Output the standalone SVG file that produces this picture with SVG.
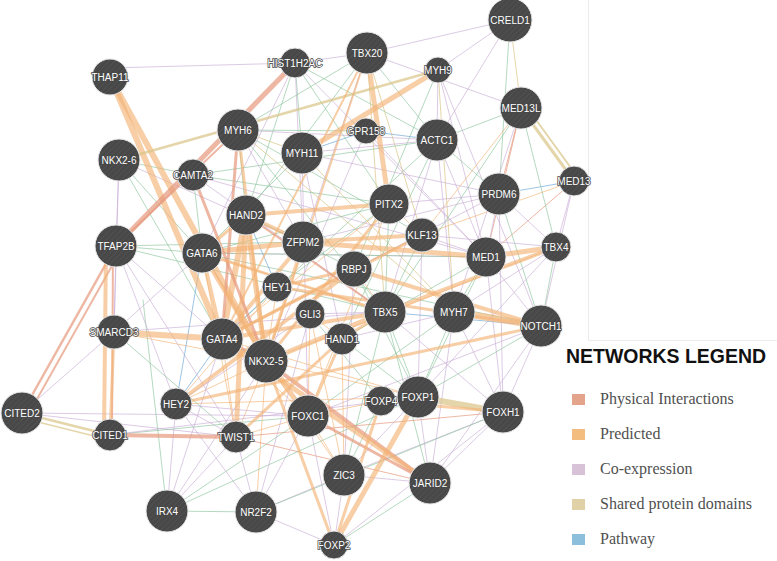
<svg xmlns="http://www.w3.org/2000/svg" width="777" height="561" viewBox="0 0 777 561">
<defs>
<pattern id="hatch" patternUnits="userSpaceOnUse" width="4" height="4" patternTransform="rotate(45)">
<rect width="4" height="4" fill="#484848"/>
<line x1="0" y1="0" x2="0" y2="4" stroke="#555" stroke-width="1.2"/>
</pattern>
</defs>
<style>
line{stroke-linecap:round;fill:none}
.pr{stroke:#f3b476;stroke-opacity:.65}
.pi{stroke:#e5987c;stroke-opacity:.7}
.co{stroke:#c9aed6;stroke-opacity:.65}
.sd{stroke:#d8c486;stroke-opacity:.7}
.pw{stroke:#7cb0da;stroke-opacity:.75}
.gi{stroke:#8cc49c;stroke-opacity:.65}
.t{stroke-width:1}
.node circle{fill:url(#hatch);stroke:#e8e8e8;stroke-width:1}
.node text{fill:#fff;font-family:"Liberation Sans",Arial,sans-serif;font-size:10px;text-anchor:middle;stroke:#474747;stroke-width:1.5;paint-order:stroke}
.lg{font-family:"Liberation Serif","Times New Roman",serif;font-size:16px;fill:#505050}
</style>
<rect width="777" height="561" fill="#fff"/>
<g id="frame" stroke="#ececec" stroke-width="1" fill="none">
<line x1="588.5" y1="0" x2="588.5" y2="340"/>
<line x1="588.5" y1="340.5" x2="777" y2="340.5"/>
</g>
<g id="connectors">
<line class="co t" x1="110" y1="68" x2="295" y2="63"/>
<line class="co t" x1="295" y1="63" x2="367" y2="53"/>
<line class="co t" x1="367" y1="53" x2="510" y2="20"/>
<line class="co t" x1="438" y1="70" x2="510" y2="20"/>
<line class="gi t" x1="510" y1="20" x2="499" y2="194"/>
<line class="sd t" x1="510" y1="20" x2="521" y2="108"/>
<line class="co t" x1="510" y1="20" x2="437" y2="140"/>
<line class="gi t" x1="295" y1="63" x2="302" y2="153"/>
<line class="gi t" x1="295" y1="63" x2="437" y2="140"/>
<line class="co t" x1="295" y1="63" x2="202" y2="253"/>
<line class="gi t" x1="295" y1="63" x2="389" y2="204"/>
<line class="gi t" x1="295" y1="63" x2="246" y2="215"/>
<line class="co t" x1="295" y1="63" x2="303" y2="242"/>
<line class="co t" x1="295" y1="63" x2="486" y2="257"/>
<line class="gi t" x1="367" y1="53" x2="246" y2="215"/>
<line class="co t" x1="367" y1="53" x2="303" y2="242"/>
<line class="gi t" x1="367" y1="53" x2="437" y2="140"/>
<line class="gi t" x1="367" y1="53" x2="238" y2="130"/>
<line class="sd t" x1="367" y1="53" x2="422" y2="235"/>
<line class="co t" x1="367" y1="53" x2="521" y2="108"/>
<line class="sd t" x1="367" y1="53" x2="385" y2="312"/>
<line class="co t" x1="438" y1="70" x2="437" y2="140"/>
<line class="sd t" x1="438" y1="70" x2="454" y2="312"/>
<line class="co t" x1="438" y1="70" x2="486" y2="257"/>
<line class="co t" x1="438" y1="70" x2="541" y2="326"/>
<line class="gi t" x1="438" y1="70" x2="354" y2="269"/>
<line class="sd t" x1="238" y1="130" x2="454" y2="312"/>
<line class="co t" x1="238" y1="130" x2="437" y2="140"/>
<line class="sd t" x1="238" y1="130" x2="302" y2="153"/>
<line class="gi t" x1="238" y1="130" x2="366" y2="131"/>
<line class="gi t" x1="238" y1="130" x2="246" y2="215"/>
<line class="co t" x1="238" y1="130" x2="303" y2="242"/>
<line class="gi t" x1="238" y1="130" x2="422" y2="235"/>
<line class="gi t" x1="238" y1="130" x2="385" y2="312"/>
<line class="pw t" x1="366" y1="131" x2="437" y2="140"/>
<line class="pw t" x1="366" y1="131" x2="302" y2="153"/>
<line class="co t" x1="366" y1="131" x2="486" y2="257"/>
<line class="co t" x1="366" y1="131" x2="266" y2="361"/>
<line class="co t" x1="437" y1="140" x2="454" y2="312"/>
<line class="co t" x1="437" y1="140" x2="302" y2="153"/>
<line class="gi t" x1="437" y1="140" x2="222" y2="339"/>
<line class="gi t" x1="437" y1="140" x2="499" y2="194"/>
<line class="co t" x1="437" y1="140" x2="385" y2="312"/>
<line class="co t" x1="437" y1="140" x2="486" y2="257"/>
<line class="gi t" x1="437" y1="140" x2="342" y2="339"/>
<line class="sd t" x1="302" y1="153" x2="454" y2="312"/>
<line class="co t" x1="302" y1="153" x2="499" y2="194"/>
<line class="gi t" x1="302" y1="153" x2="202" y2="253"/>
<line class="co t" x1="302" y1="153" x2="342" y2="339"/>
<line class="co t" x1="302" y1="153" x2="308" y2="416"/>
<line class="gi t" x1="119" y1="160" x2="193" y2="175"/>
<line class="gi t" x1="119" y1="160" x2="202" y2="253"/>
<line class="gi t" x1="119" y1="160" x2="222" y2="339"/>
<line class="co t" x1="119" y1="160" x2="114" y2="332"/>
<line class="co t" x1="119" y1="160" x2="303" y2="242"/>
<line class="co t" x1="119" y1="160" x2="116" y2="246"/>
<line class="gi t" x1="193" y1="175" x2="202" y2="253"/>
<line class="gi t" x1="193" y1="175" x2="437" y2="140"/>
<line class="co t" x1="193" y1="175" x2="385" y2="312"/>
<line class="co t" x1="193" y1="175" x2="486" y2="257"/>
<line class="gi t" x1="193" y1="175" x2="389" y2="204"/>
<line class="pw t" x1="574" y1="181" x2="499" y2="194"/>
<line class="pi t" x1="574" y1="181" x2="486" y2="257"/>
<line class="co t" x1="574" y1="181" x2="556" y2="247"/>
<line class="pr t" x1="574" y1="181" x2="422" y2="235"/>
<line class="co t" x1="574" y1="181" x2="541" y2="326"/>
<line class="pi t" x1="521" y1="108" x2="486" y2="257"/>
<line class="pi t" x1="521" y1="108" x2="499" y2="194"/>
<line class="pr t" x1="521" y1="108" x2="422" y2="235"/>
<line class="gi t" x1="521" y1="108" x2="556" y2="247"/>
<line class="gi t" x1="521" y1="108" x2="385" y2="312"/>
<line class="gi t" x1="521" y1="108" x2="437" y2="140"/>
<line class="co t" x1="521" y1="108" x2="454" y2="312"/>
<line class="co t" x1="499" y1="194" x2="556" y2="247"/>
<line class="co t" x1="499" y1="194" x2="486" y2="257"/>
<line class="co t" x1="499" y1="194" x2="389" y2="204"/>
<line class="co t" x1="499" y1="194" x2="354" y2="269"/>
<line class="gi t" x1="499" y1="194" x2="541" y2="326"/>
<line class="co t" x1="499" y1="194" x2="303" y2="242"/>
<line class="co t" x1="499" y1="194" x2="503" y2="412"/>
<line class="pr t" x1="389" y1="204" x2="422" y2="235"/>
<line class="pr t" x1="389" y1="204" x2="222" y2="339"/>
<line class="gi t" x1="389" y1="204" x2="385" y2="312"/>
<line class="pr t" x1="389" y1="204" x2="308" y2="416"/>
<line class="gi t" x1="389" y1="204" x2="277" y2="287"/>
<line class="gi t" x1="389" y1="204" x2="202" y2="253"/>
<line class="co t" x1="422" y1="235" x2="556" y2="247"/>
<line class="co t" x1="422" y1="235" x2="486" y2="257"/>
<line class="gi t" x1="422" y1="235" x2="385" y2="312"/>
<line class="co t" x1="422" y1="235" x2="418" y2="397"/>
<line class="pr t" x1="422" y1="235" x2="354" y2="269"/>
<line class="gi t" x1="556" y1="247" x2="541" y2="326"/>
<line class="co t" x1="556" y1="247" x2="454" y2="312"/>
<line class="pr t" x1="556" y1="247" x2="266" y2="361"/>
<line class="co t" x1="556" y1="247" x2="418" y2="397"/>
<line class="co t" x1="486" y1="257" x2="541" y2="326"/>
<line class="co t" x1="486" y1="257" x2="503" y2="412"/>
<line class="gi t" x1="486" y1="257" x2="454" y2="312"/>
<line class="gi t" x1="486" y1="257" x2="418" y2="397"/>
<line class="gi t" x1="486" y1="257" x2="342" y2="339"/>
<line class="co t" x1="486" y1="257" x2="202" y2="253"/>
<line class="pr t" x1="354" y1="269" x2="385" y2="312"/>
<line class="gi t" x1="354" y1="269" x2="418" y2="397"/>
<line class="co t" x1="354" y1="269" x2="344" y2="475"/>
<line class="gi t" x1="354" y1="269" x2="246" y2="215"/>
<line class="gi t" x1="385" y1="312" x2="418" y2="397"/>
<line class="co t" x1="385" y1="312" x2="503" y2="412"/>
<line class="gi t" x1="385" y1="312" x2="344" y2="475"/>
<line class="gi t" x1="385" y1="312" x2="430" y2="483"/>
<line class="co t" x1="385" y1="312" x2="310" y2="314"/>
<line class="pr t" x1="385" y1="312" x2="202" y2="253"/>
<line class="gi t" x1="454" y1="312" x2="418" y2="397"/>
<line class="co t" x1="454" y1="312" x2="430" y2="483"/>
<line class="co t" x1="454" y1="312" x2="503" y2="412"/>
<line class="co t" x1="454" y1="312" x2="342" y2="339"/>
<line class="gi t" x1="454" y1="312" x2="308" y2="416"/>
<line class="gi t" x1="541" y1="326" x2="418" y2="397"/>
<line class="co t" x1="541" y1="326" x2="503" y2="412"/>
<line class="co t" x1="541" y1="326" x2="308" y2="416"/>
<line class="co t" x1="541" y1="326" x2="430" y2="483"/>
<line class="pw t" x1="541" y1="326" x2="385" y2="312"/>
<line class="gi t" x1="342" y1="339" x2="418" y2="397"/>
<line class="pr t" x1="342" y1="339" x2="344" y2="475"/>
<line class="pr t" x1="342" y1="339" x2="310" y2="314"/>
<line class="pr t" x1="310" y1="314" x2="344" y2="475"/>
<line class="pr t" x1="310" y1="314" x2="308" y2="416"/>
<line class="co t" x1="310" y1="314" x2="176" y2="404"/>
<line class="gi t" x1="310" y1="314" x2="381" y2="401"/>
<line class="pr t" x1="277" y1="287" x2="176" y2="404"/>
<line class="pw t" x1="277" y1="287" x2="222" y2="339"/>
<line class="pr t" x1="277" y1="287" x2="266" y2="361"/>
<line class="pw t" x1="222" y1="339" x2="176" y2="404"/>
<line class="pr t" x1="222" y1="339" x2="236" y2="437"/>
<line class="pr t" x1="222" y1="339" x2="308" y2="416"/>
<line class="pr t" x1="222" y1="339" x2="418" y2="397"/>
<line class="pr t" x1="266" y1="361" x2="344" y2="475"/>
<line class="pr t" x1="266" y1="361" x2="418" y2="397"/>
<line class="pr t" x1="266" y1="361" x2="236" y2="437"/>
<line class="pr t" x1="266" y1="361" x2="176" y2="404"/>
<line class="co t" x1="266" y1="361" x2="167" y2="511"/>
<line class="pr t" x1="266" y1="361" x2="256" y2="512"/>
<line class="co t" x1="176" y1="404" x2="236" y2="437"/>
<line class="co t" x1="176" y1="404" x2="167" y2="511"/>
<line class="co t" x1="176" y1="404" x2="256" y2="512"/>
<line class="co t" x1="176" y1="404" x2="308" y2="416"/>
<line class="pr t" x1="176" y1="404" x2="418" y2="397"/>
<line class="co t" x1="22" y1="413" x2="236" y2="437"/>
<line class="co t" x1="22" y1="413" x2="308" y2="416"/>
<line class="gi t" x1="110" y1="435" x2="308" y2="416"/>
<line class="co t" x1="110" y1="435" x2="418" y2="397"/>
<line class="pr t" x1="236" y1="437" x2="308" y2="416"/>
<line class="co t" x1="236" y1="437" x2="167" y2="511"/>
<line class="co t" x1="236" y1="437" x2="256" y2="512"/>
<line class="pi t" x1="236" y1="437" x2="430" y2="483"/>
<line class="pi t" x1="236" y1="437" x2="503" y2="412"/>
<line class="pr t" x1="308" y1="416" x2="344" y2="475"/>
<line class="co t" x1="308" y1="416" x2="334" y2="545"/>
<line class="co t" x1="308" y1="416" x2="256" y2="512"/>
<line class="pr t" x1="308" y1="416" x2="381" y2="401"/>
<line class="sd t" x1="381" y1="401" x2="418" y2="397"/>
<line class="gi t" x1="381" y1="401" x2="344" y2="475"/>
<line class="co t" x1="418" y1="397" x2="430" y2="483"/>
<line class="co t" x1="418" y1="397" x2="344" y2="475"/>
<line class="co t" x1="503" y1="412" x2="430" y2="483"/>
<line class="co t" x1="503" y1="412" x2="334" y2="545"/>
<line class="co t" x1="503" y1="412" x2="344" y2="475"/>
<line class="co t" x1="344" y1="475" x2="334" y2="545"/>
<line class="co t" x1="344" y1="475" x2="256" y2="512"/>
<line class="co t" x1="344" y1="475" x2="430" y2="483"/>
<line class="gi t" x1="430" y1="483" x2="334" y2="545"/>
<line class="gi t" x1="167" y1="511" x2="256" y2="512"/>
<line class="gi t" x1="167" y1="511" x2="308" y2="416"/>
<line class="co t" x1="167" y1="511" x2="222" y2="339"/>
<line class="gi t" x1="167" y1="511" x2="143" y2="300"/>
<line class="gi t" x1="167" y1="511" x2="418" y2="397"/>
<line class="co t" x1="256" y1="512" x2="334" y2="545"/>
<line class="gi t" x1="256" y1="512" x2="503" y2="412"/>
<line class="co t" x1="256" y1="512" x2="310" y2="314"/>
<line class="gi t" x1="116" y1="246" x2="202" y2="253"/>
<line class="co t" x1="116" y1="246" x2="222" y2="339"/>
<line class="gi t" x1="116" y1="246" x2="385" y2="312"/>
<line class="co t" x1="116" y1="246" x2="176" y2="404"/>
<line class="co t" x1="116" y1="246" x2="236" y2="437"/>
<line class="co t" x1="116" y1="246" x2="114" y2="332"/>
<line class="gi t" x1="116" y1="246" x2="303" y2="242"/>
<line class="co t" x1="114" y1="332" x2="202" y2="253"/>
<line class="co t" x1="114" y1="332" x2="385" y2="312"/>
<line class="co t" x1="114" y1="332" x2="22" y2="413"/>
<line class="gi t" x1="114" y1="332" x2="236" y2="437"/>
<line class="pr t" x1="114" y1="332" x2="266" y2="361"/>
<line class="pw t" x1="202" y1="253" x2="176" y2="404"/>
<line class="pr t" x1="202" y1="253" x2="236" y2="437"/>
<line class="pr t" x1="202" y1="253" x2="308" y2="416"/>
<line class="gi t" x1="202" y1="253" x2="486" y2="257"/>
<line class="gi t" x1="202" y1="253" x2="541" y2="326"/>
<line class="pw t" x1="246" y1="215" x2="277" y2="287"/>
<line class="pw t" x1="222" y1="339" x2="266" y2="361"/>
<line class="pr" stroke-width="6" x1="110" y1="77" x2="222" y2="339"/>
<line class="pr" stroke-width="6" x1="110" y1="77" x2="266" y2="361"/>
<line class="pi" stroke-width="5" x1="295" y1="63" x2="116" y2="246"/>
<line class="pi" stroke-width="2.5" x1="116" y1="246" x2="22" y2="413"/>
<line class="pi" stroke-width="2" x1="122" y1="248" x2="28" y2="415"/>
<line class="pr" stroke-width="4" x1="106" y1="246" x2="104" y2="435"/>
<line class="pi" stroke-width="2" x1="113" y1="246" x2="112" y2="435"/>
<line class="pi" stroke-width="4" x1="110" y1="435" x2="236" y2="437"/>
<line class="pr" stroke-width="6" x1="114" y1="332" x2="222" y2="339"/>
<line class="pr" stroke-width="5" x1="438" y1="70" x2="302" y2="153"/>
<line class="pr" stroke-width="5" x1="367" y1="53" x2="389" y2="204"/>
<line class="sd" stroke-width="2.5" x1="119" y1="160" x2="438" y2="70"/>
<line class="sd" stroke-width="3" x1="521" y1="108" x2="574" y2="181"/>
<line class="sd" stroke-width="2" x1="526" y1="106" x2="579" y2="179"/>
<line class="pr" stroke-width="7" x1="454" y1="312" x2="541" y2="326"/>
<line class="pr" stroke-width="5" x1="486" y1="257" x2="556" y2="247"/>
<line class="pr" stroke-width="4" x1="385" y1="312" x2="556" y2="247"/>
<line class="sd" stroke-width="6" x1="418" y1="397" x2="503" y2="412"/>
<line class="pr" stroke-width="3" x1="381" y1="401" x2="503" y2="412"/>
<line class="pr" stroke-width="5" x1="303" y1="242" x2="486" y2="257"/>
<line class="pr" stroke-width="4" x1="303" y1="242" x2="422" y2="235"/>
<line class="pr" stroke-width="4" x1="246" y1="215" x2="303" y2="242"/>
<line class="pr" stroke-width="5" x1="202" y1="253" x2="303" y2="242"/>
<line class="pr" stroke-width="4" x1="222" y1="339" x2="303" y2="242"/>
<line class="pi" stroke-width="4" x1="222" y1="339" x2="266" y2="361"/>
<line class="pr" stroke-width="5" x1="266" y1="361" x2="385" y2="312"/>
<line class="pr" stroke-width="4" x1="222" y1="339" x2="385" y2="312"/>
<line class="pr" stroke-width="6" x1="246" y1="215" x2="222" y2="339"/>
<line class="pr" stroke-width="5" x1="246" y1="215" x2="266" y2="361"/>
<line class="pr" stroke-width="5" x1="246" y1="215" x2="236" y2="437"/>
<line class="pi" stroke-width="3" x1="193" y1="175" x2="266" y2="361"/>
<line class="pi" stroke-width="3" x1="238" y1="130" x2="222" y2="339"/>
<line class="pi" stroke-width="4" x1="266" y1="361" x2="430" y2="483"/>
<line class="pr" stroke-width="5" x1="222" y1="339" x2="430" y2="483"/>
<line class="pi" stroke-width="3" x1="308" y1="416" x2="430" y2="483"/>
<line class="pr" stroke-width="5" x1="334" y1="545" x2="418" y2="397"/>
<line class="pr" stroke-width="3" x1="334" y1="545" x2="381" y2="401"/>
<line class="pr" stroke-width="3" x1="334" y1="545" x2="266" y2="361"/>
<line class="pr" stroke-width="4" x1="176" y1="404" x2="354" y2="269"/>
<line class="pr" stroke-width="3" x1="277" y1="287" x2="354" y2="269"/>
<line class="pr" stroke-width="4" x1="541" y1="326" x2="354" y2="269"/>
<line class="pr" stroke-width="3" x1="541" y1="326" x2="277" y2="287"/>
<line class="pr" stroke-width="3" x1="541" y1="326" x2="176" y2="404"/>
<line class="pr" stroke-width="3" x1="422" y1="235" x2="222" y2="339"/>
<line class="pr" stroke-width="3" x1="389" y1="204" x2="266" y2="361"/>
<line class="pr" stroke-width="4" x1="389" y1="204" x2="246" y2="215"/>
<line class="pr" stroke-width="3" x1="236" y1="437" x2="342" y2="339"/>
<line class="pr" stroke-width="4" x1="202" y1="253" x2="266" y2="361"/>
<line class="pr" stroke-width="3" x1="202" y1="253" x2="246" y2="215"/>
<line class="pr" stroke-width="4" x1="202" y1="253" x2="222" y2="339"/>
<line class="pr" stroke-width="3" x1="114" y1="332" x2="110" y2="435"/>
<line class="pr" stroke-width="3" x1="202" y1="253" x2="385" y2="312"/>
<line class="pr" stroke-width="3" x1="342" y1="339" x2="308" y2="416"/>
<line class="pr" stroke-width="4" x1="266" y1="361" x2="308" y2="416"/>
<line class="pr" stroke-width="3" x1="385" y1="312" x2="342" y2="339"/>
<line class="pr" stroke-width="2" x1="367" y1="53" x2="222" y2="339"/>
<line class="pr" stroke-width="2" x1="367" y1="53" x2="266" y2="361"/>
<line class="pr" stroke-width="3" x1="354" y1="269" x2="222" y2="339"/>
<line class="pr" stroke-width="3" x1="238" y1="130" x2="266" y2="361"/>
<line class="sd" stroke-width="2.5" x1="22" y1="413" x2="110" y2="435"/>
<line class="sd" stroke-width="1.5" x1="22" y1="418" x2="110" y2="440"/>
<line class="pi" stroke-width="2" x1="116" y1="246" x2="238" y2="130"/>
<line class="pr" stroke-width="3" x1="303" y1="242" x2="266" y2="361"/>
<line class="pi" stroke-width="2" x1="246" y1="215" x2="385" y2="312"/>
</g>
<g id="nodes">
<g class="node" id="n-CRELD1"><circle cx="510" cy="20" r="22"/><text x="510" y="23.5">CRELD1</text></g>
<g class="node" id="n-TBX20"><circle cx="367" cy="53" r="21"/><text x="367" y="56.5">TBX20</text></g>
<g class="node" id="n-HIST1H2AC"><circle cx="295" cy="63" r="15"/><text x="295" y="66.5">HIST1H2AC</text></g>
<g class="node" id="n-MYH9"><circle cx="438" cy="70" r="13"/><text x="438" y="73.5">MYH9</text></g>
<g class="node" id="n-THAP11"><circle cx="110" cy="77" r="18"/><text x="110" y="80.5">THAP11</text></g>
<g class="node" id="n-MED13L"><circle cx="521" cy="108" r="21"/><text x="521" y="111.5">MED13L</text></g>
<g class="node" id="n-MYH6"><circle cx="238" cy="130" r="21"/><text x="238" y="133.5">MYH6</text></g>
<g class="node" id="n-GPR158"><circle cx="366" cy="131" r="13"/><text x="366" y="134.5">GPR158</text></g>
<g class="node" id="n-ACTC1"><circle cx="437" cy="140" r="21"/><text x="437" y="143.5">ACTC1</text></g>
<g class="node" id="n-MYH11"><circle cx="302" cy="153" r="21"/><text x="302" y="156.5">MYH11</text></g>
<g class="node" id="n-NKX2-6"><circle cx="119" cy="160" r="21"/><text x="119" y="163.5">NKX2-6</text></g>
<g class="node" id="n-CAMTA2"><circle cx="193" cy="175" r="16"/><text x="193" y="178.5">CAMTA2</text></g>
<g class="node" id="n-MED13"><circle cx="574" cy="181" r="15"/><text x="574" y="184.5">MED13</text></g>
<g class="node" id="n-PRDM6"><circle cx="499" cy="194" r="21"/><text x="499" y="197.5">PRDM6</text></g>
<g class="node" id="n-PITX2"><circle cx="389" cy="204" r="20"/><text x="389" y="207.5">PITX2</text></g>
<g class="node" id="n-HAND2"><circle cx="246" cy="215" r="20"/><text x="246" y="218.5">HAND2</text></g>
<g class="node" id="n-ZFPM2"><circle cx="303" cy="242" r="21"/><text x="303" y="245.5">ZFPM2</text></g>
<g class="node" id="n-KLF13"><circle cx="422" cy="235" r="17"/><text x="422" y="238.5">KLF13</text></g>
<g class="node" id="n-GATA6"><circle cx="202" cy="253" r="20"/><text x="202" y="256.5">GATA6</text></g>
<g class="node" id="n-TFAP2B"><circle cx="116" cy="246" r="21"/><text x="116" y="249.5">TFAP2B</text></g>
<g class="node" id="n-MED1"><circle cx="486" cy="257" r="20"/><text x="486" y="260.5">MED1</text></g>
<g class="node" id="n-TBX4"><circle cx="556" cy="247" r="15"/><text x="556" y="250.5">TBX4</text></g>
<g class="node" id="n-RBPJ"><circle cx="354" cy="269" r="18"/><text x="354" y="272.5">RBPJ</text></g>
<g class="node" id="n-HEY1"><circle cx="277" cy="287" r="15"/><text x="277" y="290.5">HEY1</text></g>
<g class="node" id="n-GLI3"><circle cx="310" cy="314" r="15"/><text x="310" y="317.5">GLI3</text></g>
<g class="node" id="n-TBX5"><circle cx="385" cy="312" r="21"/><text x="385" y="315.5">TBX5</text></g>
<g class="node" id="n-MYH7"><circle cx="454" cy="312" r="21"/><text x="454" y="315.5">MYH7</text></g>
<g class="node" id="n-NOTCH1"><circle cx="541" cy="326" r="21"/><text x="541" y="329.5">NOTCH1</text></g>
<g class="node" id="n-HAND1"><circle cx="342" cy="339" r="16"/><text x="342" y="342.5">HAND1</text></g>
<g class="node" id="n-SMARCD3"><circle cx="114" cy="332" r="17"/><text x="114" y="335.5">SMARCD3</text></g>
<g class="node" id="n-GATA4"><circle cx="222" cy="339" r="21"/><text x="222" y="342.5">GATA4</text></g>
<g class="node" id="n-NKX2-5"><circle cx="266" cy="361" r="22"/><text x="266" y="364.5">NKX2-5</text></g>
<g class="node" id="n-HEY2"><circle cx="176" cy="404" r="16"/><text x="176" y="407.5">HEY2</text></g>
<g class="node" id="n-CITED2"><circle cx="22" cy="413" r="21"/><text x="22" y="416.5">CITED2</text></g>
<g class="node" id="n-CITED1"><circle cx="110" cy="435" r="16"/><text x="110" y="438.5">CITED1</text></g>
<g class="node" id="n-TWIST1"><circle cx="236" cy="437" r="16"/><text x="236" y="440.5">TWIST1</text></g>
<g class="node" id="n-FOXC1"><circle cx="308" cy="416" r="21"/><text x="308" y="419.5">FOXC1</text></g>
<g class="node" id="n-FOXP4"><circle cx="381" cy="401" r="15"/><text x="381" y="404.5">FOXP4</text></g>
<g class="node" id="n-FOXP1"><circle cx="418" cy="397" r="21"/><text x="418" y="400.5">FOXP1</text></g>
<g class="node" id="n-FOXH1"><circle cx="503" cy="412" r="21"/><text x="503" y="415.5">FOXH1</text></g>
<g class="node" id="n-ZIC3"><circle cx="344" cy="475" r="21"/><text x="344" y="478.5">ZIC3</text></g>
<g class="node" id="n-JARID2"><circle cx="430" cy="483" r="21"/><text x="430" y="486.5">JARID2</text></g>
<g class="node" id="n-IRX4"><circle cx="167" cy="511" r="21"/><text x="167" y="514.5">IRX4</text></g>
<g class="node" id="n-NR2F2"><circle cx="256" cy="512" r="21"/><text x="256" y="515.5">NR2F2</text></g>
<g class="node" id="n-FOXP2"><circle cx="334" cy="545" r="14"/><text x="334" y="548.5">FOXP2</text></g>
</g>
<g id="legend">
<text x="566" y="363" font-family="'Liberation Sans',Arial,sans-serif" font-size="20" font-weight="900" fill="#111" textLength="200" lengthAdjust="spacingAndGlyphs">NETWORKS LEGEND</text>
<rect x="572" y="394" width="13" height="11" fill="#e4a48c"/>
<rect x="572" y="429" width="13" height="11" fill="#f4bd80"/>
<rect x="572" y="464" width="13" height="11" fill="#d8c2d8"/>
<rect x="572" y="499" width="13" height="11" fill="#e0d1a6"/>
<rect x="572" y="534" width="13" height="11" fill="#8cbfdc"/>
<text class="lg" x="600" y="404">Physical Interactions</text>
<text class="lg" x="600" y="439">Predicted</text>
<text class="lg" x="600" y="474">Co-expression</text>
<text class="lg" x="600" y="509">Shared protein domains</text>
<text class="lg" x="600" y="544">Pathway</text>
</g>
</svg>
